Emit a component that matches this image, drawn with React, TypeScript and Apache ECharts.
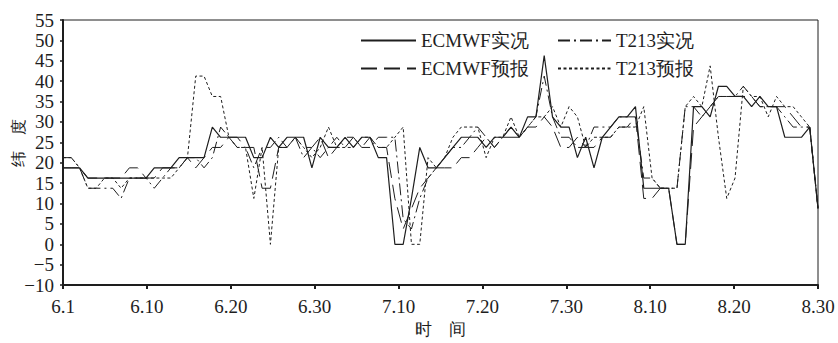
import React, { useEffect, useRef } from "react";
import * as echarts from "echarts";

// x tick labels (value axis 0..90, one label every 10 units)
const xTickLabels = ["6.1", "6.10", "6.20", "6.30", "7.10", "7.20", "7.30", "8.10", "8.20", "8.30"];

// daily categories 6.1 .. 8.31
const months: [number, number][] = [[6, 30], [7, 31], [8, 31]];
const dates: string[] = [];
months.forEach(([m, n]) => {
  for (let d = 1; d <= n; d++) dates.push(`${m}.${d}`);
});

const ecmwfObs = [
  18.75, 18.75, 18.75, 16.25, 16.25, 16.25, 16.25, 16.25, 16.25, 16.25,
  16.25, 18.75, 18.75, 18.75, 21.25, 21.25, 21.25, 21.25, 28.75, 26.25,
  26.25, 26.25, 26.25, 21.25, 21.25, 26.25, 23.75, 26.25, 26.25, 26.25,
  18.75, 26.25, 23.75, 23.75, 26.25, 23.75, 26.25, 26.25, 21.25, 21.25,
  0, 0, 11.25, 23.75, 18.75, 18.75, 21.25, 23.75, 26.25, 26.25,
  26.25, 23.75, 26.25, 26.25, 28.75, 26.25, 31.25, 31.25, 46.25, 31.25,
  28.75, 28.75, 21.25, 26.25, 18.75, 26.25, 28.75, 31.25, 31.25, 33.75,
  13.75, 13.75, 13.75, 13.75, 0, 0, 33.75, 33.75, 31.25, 38.75,
  38.75, 36.25, 36.25, 33.75, 36.25, 33.75, 33.75, 26.25, 26.25, 26.25,
  28.75, 8.75,
];

const t213Obs = [
  21.25, 21.25, 18.75, 13.75, 13.75, 13.75, 13.75, 11.25, 16.25, 16.25,
  16.25, 13.75, 16.25, 18.75, 18.75, 21.25, 21.25, 18.75, 21.25, 28.75,
  26.25, 23.75, 23.75, 18.75, 23.75, 23.75, 26.25, 23.75, 26.25, 21.25,
  23.75, 21.25, 23.75, 26.25, 23.75, 26.25, 23.75, 23.75, 26.25, 26.25,
  26.25, 6.25, 3.75, 11.25, 16.25, 18.75, 21.25, 23.75, 23.75, 26.25,
  28.75, 26.25, 23.75, 26.25, 28.75, 26.25, 28.75, 31.25, 41.25, 31.25,
  26.25, 26.25, 23.75, 23.75, 28.75, 28.75, 28.75, 31.25, 31.25, 31.25,
  16.25, 16.25, 13.75, 13.75, 13.75, 33.75, 33.75, 31.25, 33.75, 36.25,
  36.25, 36.25, 38.75, 36.25, 33.75, 33.75, 33.75, 31.25, 28.75, 28.75,
  28.75, 8.75,
];

const ecmwfFc = [
  18.75, 18.75, 18.75, 16.25, 16.25, 16.25, 16.25, 16.25, 18.75, 18.75,
  16.25, 16.25, 18.75, 18.75, 18.75, 21.25, 18.75, 21.25, 23.75, 23.75,
  26.25, 26.25, 23.75, 23.75, 13.75, 13.75, 23.75, 23.75, 26.25, 23.75,
  23.75, 26.25, 21.25, 23.75, 26.25, 26.25, 23.75, 26.25, 23.75, 23.75,
  11.25, 3.75, 8.75, 13.75, 16.25, 18.75, 18.75, 18.75, 21.25, 21.25,
  23.75, 26.25, 23.75, 26.25, 26.25, 26.25, 28.75, 28.75, 31.25, 28.75,
  23.75, 23.75, 26.25, 23.75, 23.75, 26.25, 26.25, 28.75, 28.75, 31.25,
  11.25, 11.25, 13.75, 13.75, 0, 0, 28.75, 31.25, 33.75, 36.25,
  36.25, 36.25, 36.25, 36.25, 33.75, 33.75, 33.75, 33.75, 31.25, 28.75,
  28.75, 8.75,
];

const t213Fc = [
  21.25, 21.25, 18.75, 13.75, 13.75, 16.25, 16.25, 13.75, 16.25, 16.25,
  16.25, 16.25, 16.25, 16.25, 18.75, 21.25, 41.25, 41.25, 36.25, 36.25,
  26.25, 23.75, 23.75, 11.25, 23.75, 0, 23.75, 23.75, 26.25, 23.75,
  21.25, 23.75, 28.75, 23.75, 23.75, 23.75, 26.25, 26.25, 23.75, 23.75,
  26.25, 28.75, 0, 0, 21.25, 18.75, 21.25, 26.25, 28.75, 28.75,
  28.75, 21.25, 26.25, 26.25, 31.25, 26.25, 28.75, 31.25, 31.25, 33.75,
  28.75, 33.75, 31.25, 23.75, 26.25, 26.25, 26.25, 28.75, 28.75, 28.75,
  33.75, 16.25, 13.75, 13.75, 13.75, 33.75, 36.25, 33.75, 43.75, 26.25,
  11.25, 16.25, 38.75, 36.25, 36.25, 31.25, 36.25, 33.75, 33.75, 31.25,
  28.75, 8.75,
];

const seriesNames = ["ECMWF实况", "T213实况", "ECMWF预报", "T213预报"];

const FONT = "'Liberation Serif', 'Times New Roman', serif";
const INK = "#1e1e1e";

export default function App() {
  const ref = useRef<HTMLDivElement>(null);

  useEffect(() => {
    if (!ref.current) return;
    const chart = echarts.init(ref.current, undefined, { renderer: "svg" });

    const mkSeries = (name: string, data: number[], type: any, width: number) => ({
      name,
      type: "line",
      xAxisIndex: 1,
      yAxisIndex: 0,
      data,
      symbol: "none",
      lineStyle: { color: INK, width, type },
      itemStyle: { color: INK, opacity: 0 },
      z: 3,
    });

    const legendText = { fontFamily: FONT, fontSize: 19, color: INK };
    const mkLegend = (name: string, left: number, top: number, w: number) => ({
      data: [name],
      left,
      top,
      itemWidth: w,
      itemHeight: 12,
      textStyle: legendText,
      itemStyle: { opacity: 0 },
      selectedMode: false,
      padding: 0,
    });

    chart.setOption({
      animation: false,
      backgroundColor: "#ffffff",
      grid: {
        left: 63,
        right: 20,
        top: 20,
        bottom: 54,
        show: true,
        borderColor: INK,
        borderWidth: 1,
        backgroundColor: "transparent",
      },
      legend: [
        mkLegend(seriesNames[0], 360, 31, 55),
        mkLegend(seriesNames[1], 557, 31, 53),
        mkLegend(seriesNames[2], 360, 59, 55),
        mkLegend(seriesNames[3], 557, 59, 53),
      ],
      xAxis: [
        {
          type: "value",
          min: 0,
          max: 90,
          interval: 10,
          position: "bottom",
          axisLine: { show: true, onZero: false, lineStyle: { color: INK, width: 2 } },
          axisTick: { show: true, inside: false, length: 4, lineStyle: { color: INK, width: 2 } },
          splitLine: { show: false },
          axisLabel: {
            margin: 12,
            fontFamily: FONT,
            fontSize: 19,
            color: INK,
            formatter: (v: number) => xTickLabels[Math.round(v / 10)] ?? "",
          },
          name: "时\u3000间",
          nameLocation: "middle",
          nameGap: 33,
          nameTextStyle: { fontFamily: FONT, fontSize: 17, color: INK },
        },
        {
          type: "category",
          data: dates,
          boundaryGap: false,
          show: false,
        },
      ],
      yAxis: [
        {
          type: "value",
          min: -10,
          max: 55,
          interval: 5,
          axisLine: { show: true, onZero: false, lineStyle: { color: INK, width: 2 } },
          axisTick: { show: true, inside: false, length: 3, lineStyle: { color: INK, width: 1.5 } },
          splitLine: { show: false },
          axisLabel: {
            margin: 9,
            fontFamily: FONT,
            fontSize: 19,
            color: INK,
            formatter: (v: number) => (v < 0 ? "\u2212" + Math.abs(v) : String(v)),
          },
        },
      ],
      graphic: [
        {
          type: "text",
          x: 18,
          y: 143,
          rotation: Math.PI / 2,
          style: {
            text: "纬\u3000度",
            fontFamily: FONT,
            fontSize: 16,
            fill: INK,
            align: "center",
            verticalAlign: "middle",
          },
        },
      ],
      series: [
        mkSeries(seriesNames[0], ecmwfObs, "solid", 1.2),
        mkSeries(seriesNames[1], t213Obs, [12, 4, 2, 4], 1),
        mkSeries(seriesNames[2], ecmwfFc, [16, 7], 1),
        mkSeries(seriesNames[3], t213Fc, [3, 2.5], 1),
      ],
    });

    return () => chart.dispose();
  }, []);

  return (
    <div
      ref={ref}
      style={{ position: "fixed", left: 0, top: 0, width: 838, height: 343, background: "#fff" }}
    />
  );
}
